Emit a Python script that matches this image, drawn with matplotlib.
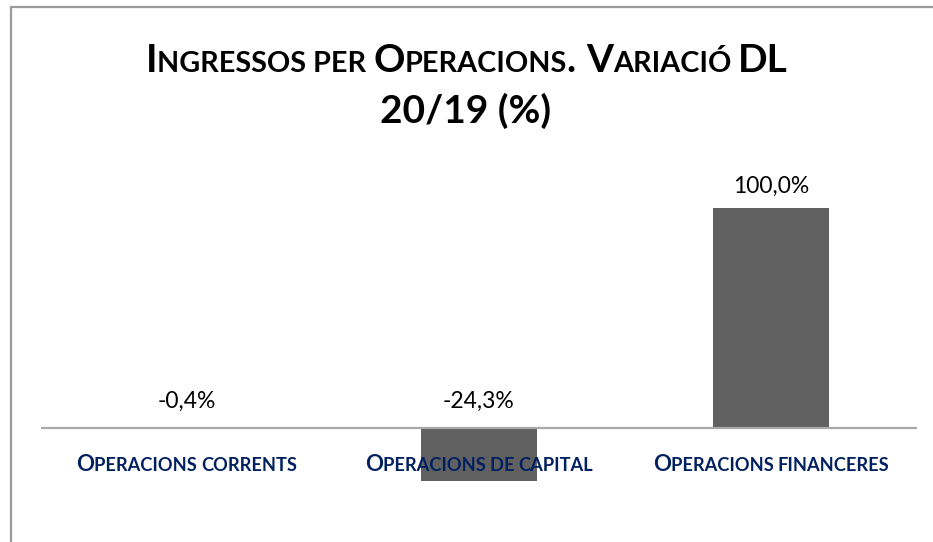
import matplotlib
matplotlib.use('Agg')
import matplotlib.pyplot as plt
from matplotlib.patches import Rectangle

# ---- data ----
categories = ["Operacions corrents", "Operacions de capital", "Operacions financeres"]
values = [-0.4, -24.3, 100.0]
title_line1 = "Ingressos per Operacions. Variació DL"
title_line2 = "20/19 (%)"

W, H = 933, 542
FONT = "Lato"
fig = plt.figure(figsize=(W / 100, H / 100), dpi=100)
fig.patch.set_facecolor("white")
renderer = fig.canvas.get_renderer()


def _w(s, size, weight):
    t = fig.text(0, 0, s, fontsize=size, family=FONT, weight=weight)
    w = t.get_window_extent(renderer).width
    t.remove()
    return w


def adv(s, size, weight):
    return _w("X" + s + "X", size, weight) - _w("XX", size, weight)


def runs_of(text):
    """split into (string, is_big) runs; lowercase -> small caps"""
    runs = []
    for ch in text:
        if ch == " " and runs:
            runs[-1][0] += ch
            continue
        big = not ch.islower()
        if runs and runs[-1][1] == big and not runs[-1][0].endswith(" "):
            runs[-1][0] += ch
        else:
            runs.append([ch, big])
    return [(s.upper(), b) for s, b in runs]


def draw_sc(text, cx, base_y, big, small, color, weight="bold"):
    runs = runs_of(text)
    widths = [adv(s, big if b else small, weight) for s, b in runs]
    x = cx - sum(widths) / 2
    for (s, b), w in zip(runs, widths):
        fig.text(x / W, 1 - base_y / H, s, fontsize=big if b else small,
                 family=FONT, weight=weight, color=color, ha="left", va="baseline")
        x += w


# ---- border ----
fig.patches.append(Rectangle((11 / W, -0.1), 1.2, 1.1 - 7 / H, transform=fig.transFigure,
                             fill=False, edgecolor="#9a9a9a", lw=1.6))

# ---- axes: 0 at y=428px, 100 at 208px ----
px_per_unit = 2.2
ax_left, ax_right = 41, 917
ax_top, ax_bot = 160, 540
ymax = (428 - ax_top) / px_per_unit
ymin = -(ax_bot - 428) / px_per_unit
ax = fig.add_axes([ax_left / W, 1 - ax_bot / H, (ax_right - ax_left) / W, (ax_bot - ax_top) / H])
ax.set_xlim(-0.5, len(categories) - 0.5)
ax.set_ylim(ymin, ymax)
ax.axis("off")
xs = list(range(len(categories)))
ax.bar(xs, values, width=0.4, color="#606060", zorder=2)
ax.axhline(0, color="#a9a9a9", lw=1.6, zorder=3)

# value labels
for x, v in zip(xs, values):
    lab = f"{v:.1f}".replace(".", ",") + "%"
    if v >= 0:
        ax.annotate(lab, (x, v), xytext=(0, 15 * 0.72), textcoords="offset points",
                    ha="center", va="baseline", fontsize=16.5, family=FONT, color="#000000")
    else:
        ax.annotate(lab, (x, 0), xytext=(0, 20 * 0.72), textcoords="offset points",
                    ha="center", va="baseline", fontsize=16.5, family=FONT, color="#000000")

# ---- title (small caps) ----
big_t = 28.0
small_t = big_t * 0.74
draw_sc(title_line1, 467, 72, big_t, small_t, "black")
fig.text(466 / W, 1 - 123 / H, title_line2, fontsize=big_t, family=FONT, weight="bold",
         ha="center", va="baseline")

# ---- category labels (small caps) ----
b = 16.0
ratio = 0.82
centers_px = [ax_left + (ax_right - ax_left) * (i + 0.5) / len(categories) for i in xs]
for cx, cat in zip(centers_px, categories):
    draw_sc(cat, cx, 471, b, b * ratio, "#002060")

fig.savefig("out.png", dpi=100, facecolor="white")
